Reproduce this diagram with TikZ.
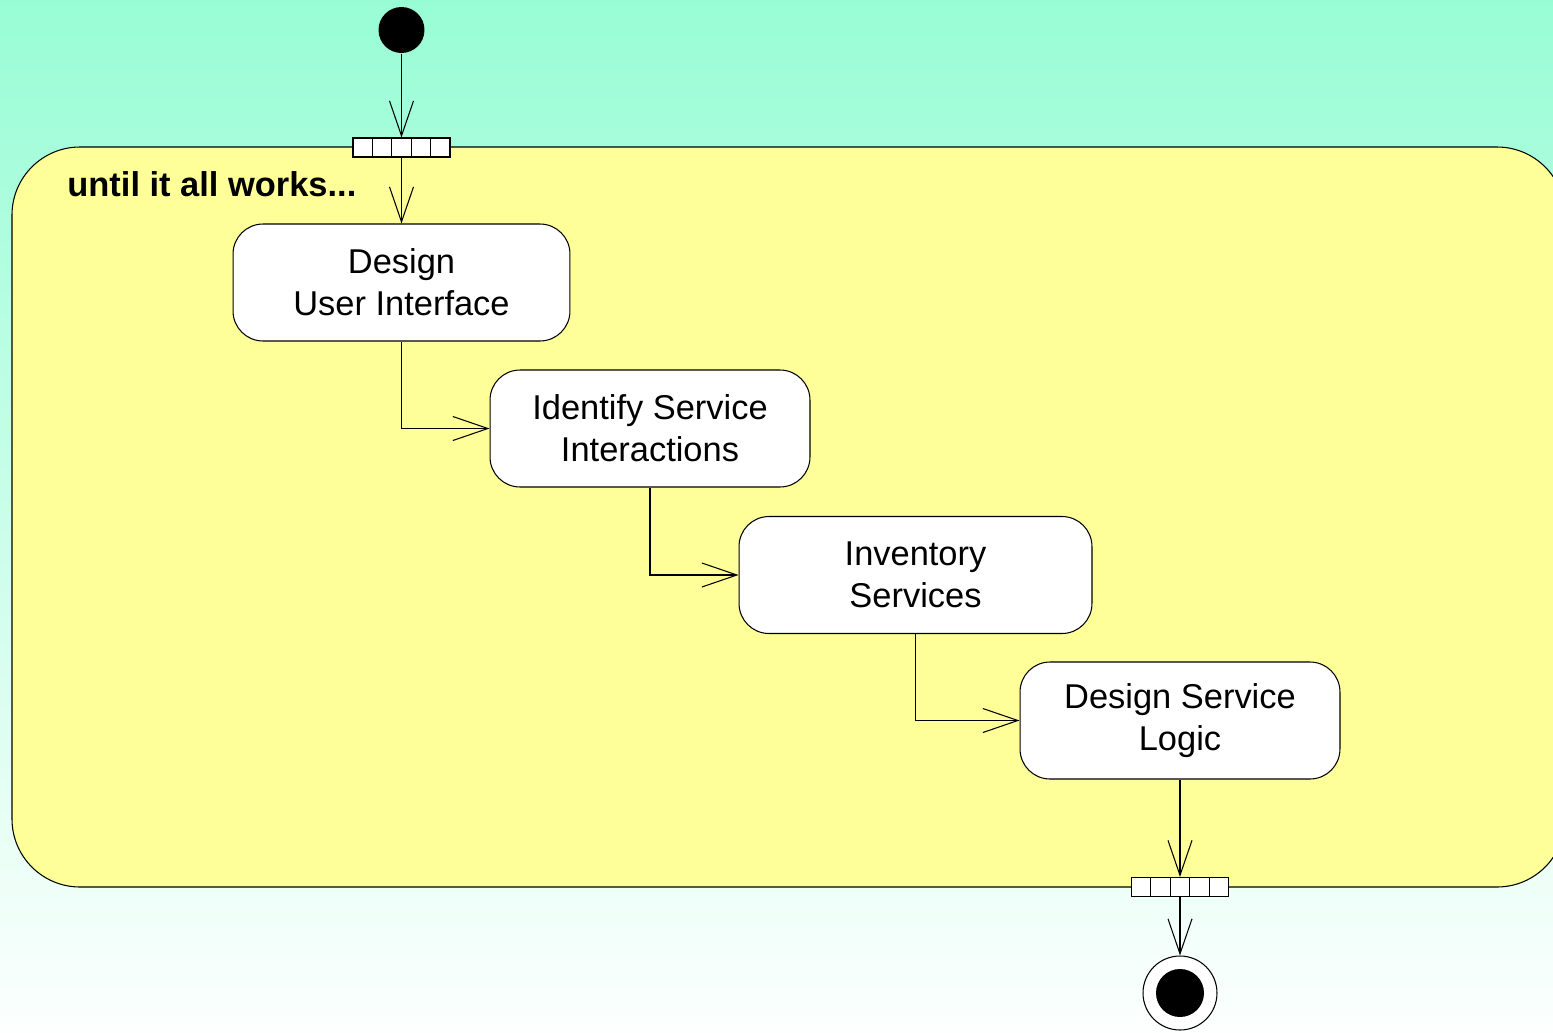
\documentclass[tikz,border=0pt]{standalone}
\usepackage{fontspec}
\setmainfont{Liberation Sans}
\usepackage{xcolor}
\usetikzlibrary{arrows.meta,positioning,calc}

\definecolor{bgtop}{HTML}{98FDD5}
\definecolor{bgbottom}{HTML}{FCFFFE}
\definecolor{regionfill}{HTML}{FFFF99}

\tikzset{
	activity/.style={draw, fill=white, rounded corners=0.6cm, align=center, inner sep=0pt,
		minimum height=2.34cm, font=\fontsize{19.6}{23.8}\selectfont},
	pinbox/.style={draw, fill=white, minimum width=1.94cm, minimum height=0.38cm, inner sep=0pt},
	flow/.style={-{Straight Barb[length=0.7cm, width=0.48cm]}},
}

\begin{document}
\begin{tikzpicture}[x=0.02cm, y=-0.02cm, line width=0.6pt]
		\clip (0,0) rectangle (1553,1032);
		\shade[top color=bgtop, middle color=bgtop!42!white, bottom color=bgbottom] (0,0) rectangle (1553,1032);

		% expansion region
		\draw[fill=regionfill, rounded corners=1.36cm] (12,147) rectangle (1565,887);
		\node[anchor=west, font=\fontsize{19.6}{23}\selectfont\bfseries] (title) at (61,184) {until it all works...};

		\node[circle, fill=black, minimum size=0.92cm, inner sep=0pt] (start) at (401.5,30) {};

		\node[pinbox] (pinIn) at (401.5,147.5) {};
		\node[pinbox] (pinOut) at (1180,887) {};
		\foreach \p in {pinIn,pinOut}
			\foreach \i in {1,...,4}
				\draw ($(\p.south west)!\i/5!(\p.south east)$) -- ($(\p.north west)!\i/5!(\p.north east)$);

		\node[activity, minimum width=6.74cm] (designUI) at (401.5,282.5) {Design\\User Interface};
		\node[activity, minimum width=6.4cm] (identify) at (650,428.5) {Identify Service\\Interactions};
		\node[activity, minimum width=7.06cm] (inventory) at (915.5,575) {Inventory\\Services};
		\node[activity, minimum width=6.4cm] (logic) at (1180,720.5) {Design Service\\Logic};

		\node[circle, draw, fill=white, minimum size=1.48cm, inner sep=0pt] (stop) at (1180,993) {};
		\fill[black] (stop.center) circle (0.48cm);

		\draw[flow] (start) -- (pinIn.north);
		\draw[flow] (pinIn.south) -- (designUI.north);
		\draw[flow] (designUI.south) |- (identify.west);
		\draw[flow] (identify.south) |- (inventory.west);
		\draw[flow] (inventory.south) |- (logic.west);
		\draw[flow] (logic.south) -- (pinOut.north);
		\draw[flow] (pinOut.south) -- (stop.north);
	\end{tikzpicture}
\end{document}
